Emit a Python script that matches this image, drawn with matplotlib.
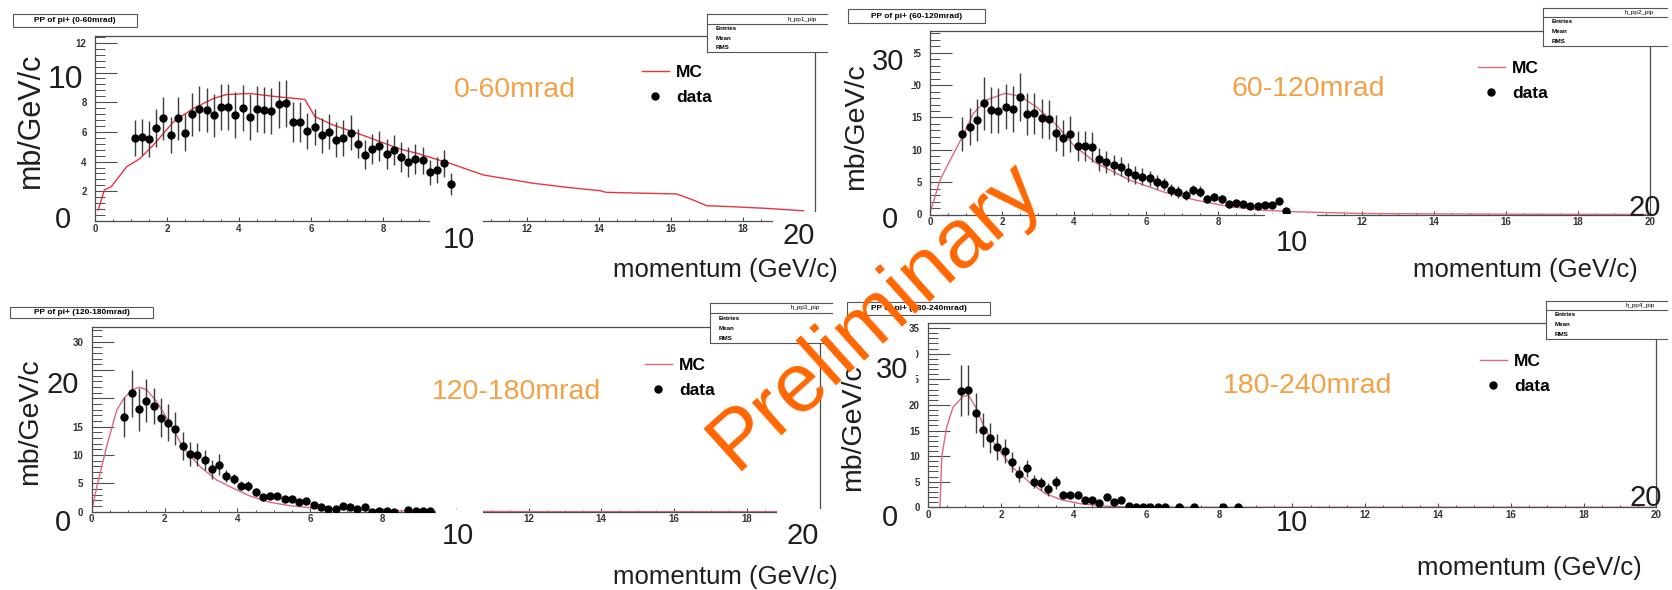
import matplotlib.pyplot as plt
from matplotlib.ticker import MultipleLocator, FuncFormatter
from matplotlib.patches import Rectangle

plt.rcParams['font.family'] = ['Liberation Sans', 'DejaVu Sans']

W, H = 1672, 590

# ---- values (momentum in GeV/c, mb/GeV/c) ----
x_0_60 = [1.1, 1.3, 1.5, 1.7, 1.9, 2.1, 2.3, 2.5, 2.7, 2.9, 3.1, 3.3, 3.5, 3.7, 3.9,
          4.1, 4.3, 4.5, 4.7, 4.9, 5.1, 5.3, 5.5, 5.7, 5.9, 6.1, 6.3, 6.5, 6.7, 6.9,
          7.1, 7.3, 7.5, 7.7, 7.9, 8.1, 8.3, 8.5, 8.7, 8.9, 9.1, 9.3, 9.5, 9.7, 9.9]
y_0_60 = [5.57, 5.66, 5.52, 6.26, 6.91, 5.79, 6.91, 5.95, 7.18, 7.56, 7.47, 7.12, 7.70, 7.68, 7.16,
          7.63, 6.98, 7.54, 7.47, 7.38, 7.86, 7.92, 6.69, 6.64, 6.06, 6.31, 5.77, 6.02, 5.48, 5.59,
          5.95, 5.21, 4.47, 4.85, 5.03, 4.49, 4.76, 4.29, 3.97, 4.18, 4.09, 3.28, 3.43, 3.88, 2.49]
e_0_60 = [1.2, 1.2, 1.2, 1.3, 1.45, 1.2, 1.45, 1.25, 1.45, 1.5, 1.5, 1.45, 1.55, 1.55, 1.55,
          1.55, 1.55, 1.55, 1.55, 1.55, 1.6, 1.6, 1.35, 1.35, 1.2, 1.2, 1.2, 1.2, 1.2, 1.2,
          1.2, 1.0, 1.0, 1.0, 1.0, 1.0, 1.0, 1.0, 1.0, 1.0, 0.9, 0.85, 0.85, 0.9, 0.75]
mc_x_0_60 = [0.09, 0.26, 0.45, 0.88, 1.25, 1.62, 2.18, 2.73, 3.29, 3.66, 4.31, 5.05, 5.83, 6.11, 6.62,
             7.55, 8.47, 8.94, 9.86, 10.79, 12.18, 13.1, 14.03, 14.2, 16.16, 16.62, 16.99, 17.73,
             18.66, 19.68]
mc_y_0_60 = [0.74, 2.09, 2.31, 3.65, 4.21, 5.11, 6.68, 7.58, 8.25, 8.52, 8.59, 8.37, 8.19, 7.02, 6.46,
             5.68, 4.85, 4.56, 3.88, 3.1, 2.54, 2.27, 2.04, 1.93, 1.82, 1.41, 1.03, 0.96, 0.85, 0.69]

x_60_120 = [0.9, 1.1, 1.3, 1.5, 1.7, 1.9, 2.1, 2.3, 2.5, 2.7, 2.9, 3.1, 3.3, 3.5, 3.7, 3.9,
            4.1, 4.3, 4.5, 4.7, 4.9, 5.1, 5.3, 5.5, 5.7, 5.9, 6.1, 6.3, 6.5, 6.7, 6.9,
            7.1, 7.3, 7.5, 7.7, 7.9, 8.1, 8.3, 8.5, 8.7, 8.9, 9.1, 9.3, 9.5, 9.7, 9.9]
y_60_120 = [12.44, 13.57, 14.6, 17.18, 16.15, 16.05, 16.66, 16.31, 18.21, 15.53, 15.64, 14.87, 14.71,
            12.55, 11.78, 12.44, 10.64, 10.64, 10.48, 8.53, 8.07, 7.65, 7.39, 6.52, 6.11, 5.85, 5.59,
            5.07, 4.71, 3.79, 3.43, 3.01, 3.79, 3.53, 2.34, 2.76, 2.34, 1.57, 1.73, 1.63, 1.32, 1.32,
            1.45, 1.5, 2.09, 0.59]
e_60_120 = [2.6, 2.9, 3.2, 4.1, 3.5, 3.5, 3.5, 3.5, 3.7, 3.3, 3.2, 3.0, 3.0, 2.8, 2.8, 2.8,
            2.3, 2.3, 2.3, 1.8, 1.7, 1.6, 1.5, 1.5, 1.4, 1.3, 1.2, 1.1, 1.0, 0.9, 0.9,
            0.8, 0.8, 0.8, 0.6, 0.6, 0.6, 0.5, 0.5, 0.5, 0.4, 0.4, 0.4, 0.4, 0.5, 0.3]
mc_x_60_120 = [0.0, 0.28, 0.56, 0.88, 1.2, 1.57, 2.08, 2.5, 2.96, 3.52, 3.98, 4.63, 5.56, 6.48,
               7.4, 8.33, 9.17, 10.0, 12.0, 16.0, 20.0]
mc_y_60_120 = [0.2, 5.33, 8.4, 11.8, 15.6, 17.7, 18.73, 18.3, 16.6, 13.8, 10.75, 7.9, 5.3, 3.5,
               2.2, 1.2, 0.7, 0.45, 0.15, 0.05, 0.0]

x_120_180 = [0.9, 1.1, 1.3, 1.5, 1.7, 1.9, 2.1, 2.3, 2.5, 2.7, 2.9, 3.1, 3.3, 3.5, 3.7, 3.9,
             4.1, 4.3, 4.5, 4.7, 4.9, 5.1, 5.3, 5.5, 5.7, 5.9, 6.1, 6.3, 6.5, 6.7, 6.9,
             7.1, 7.3, 7.5, 7.7, 7.9, 8.1, 8.3, 8.7, 8.9, 9.1, 9.3]
y_120_180 = [16.68, 20.9, 18.09, 19.6, 18.7, 16.6, 15.73, 14.61, 11.6, 10.2, 10.08, 9.13, 7.49,
             8.31, 6.31, 5.78, 4.6, 4.54, 3.54, 2.54, 2.83, 2.77, 2.18, 2.18, 1.71, 1.94, 1.23,
             0.88, 0.47, 0.47, 0.94, 0.77, 0.47, 0.77, 0.0, 0.06, 0.06, 0.0, 0.29, 0.12, 0.15, 0.15]
e_120_180 = [3.5, 4.1, 3.8, 3.8, 3.2, 3.5, 3.2, 2.9, 2.4, 2.1, 2.1, 1.8, 1.7, 1.9, 1.0, 0.9,
             0.8, 0.8, 0.7, 0.6, 0.6, 0.6, 0.5, 0.5, 0.5, 0.5, 0.4, 0.4, 0.3, 0.3, 0.4,
             0.3, 0.3, 0.3, 0.2, 0.2, 0.2, 0.2, 0.2, 0.2, 0.2, 0.2]
mc_x_120_180 = [0.0, 0.14, 0.41, 0.69, 0.87, 1.1, 1.31, 1.51, 1.79, 2.15, 2.52, 2.98, 3.43, 3.89,
                4.35, 4.9, 5.45, 6.0, 7.0, 9.0, 12.0, 20.0]
mc_y_120_180 = [0.0, 4.4, 11.5, 17.97, 19.85, 21.5, 21.97, 21.5, 19.4, 15.6, 11.2, 7.95, 5.6, 4.13,
                2.77, 1.65, 1.06, 0.7, 0.35, 0.1, 0.02, 0.0]

x_180_240 = [0.9, 1.1, 1.3, 1.5, 1.7, 1.9, 2.1, 2.3, 2.5, 2.7, 2.9, 3.1, 3.3, 3.5, 3.7, 3.9,
             4.1, 4.3, 4.5, 4.7, 4.9, 5.1, 5.3, 5.5, 5.7, 5.9, 6.1, 6.3, 6.5, 6.9, 7.3, 8.1, 8.5]
y_180_240 = [22.8, 22.9, 18.4, 15.1, 13.5, 11.8, 11.0, 8.8, 6.5, 7.6, 5.0, 4.7, 3.5, 4.9, 2.5, 2.4,
             2.5, 1.43, 1.43, 0.78, 2.1, 0.98, 1.43, 0.33, 0.0, 0.0, 0.0, 0.0, 0.0, 0.0, 0.0, 0.0, 0.0]
e_180_240 = [4.9, 4.9, 3.9, 3.3, 2.9, 2.6, 2.3, 2.0, 1.6, 1.6, 1.3, 1.3, 1.3, 1.3, 0.6, 0.6,
             0.6, 0.5, 0.5, 0.5, 0.5, 0.5, 0.5, 0.3, 0.1, 0.1, 0.1, 0.1, 0.1, 0.1, 0.1, 0.1, 0.1]
mc_x_180_240 = [0.32, 0.37, 0.5, 0.68, 0.95, 1.1, 1.3, 1.57, 1.94, 2.3, 2.76, 3.21, 3.67, 4.22,
                5.04, 6.0, 8.0, 20.0]
mc_y_180_240 = [0.0, 9.9, 15.5, 19.6, 21.6, 21.9, 19.6, 15.1, 11.2, 7.9, 5.0, 2.7, 1.43, 0.65,
                0.13, 0.05, 0.0, 0.0]

ranges = ["0-60mrad", "60-120mrad", "120-180mrad", "180-240mrad"]
hist_names = ["h_pp1_pip", "h_pp2_pip", "h_pp3_pip", "h_pp4_pip"]

FRAME = "#4d4d4d"
ORANGE = "#F4A045"


def px_rect(left, top, right, bottom):
    """Figure fraction rectangle from pixel edges (origin top-left)."""
    return [left / W, 1 - bottom / H, (right - left) / W, (bottom - top) / H]


def skip_labels(hidden):
    """Tick formatter that leaves out the labels pasted over on the slide."""
    return FuncFormatter(lambda v, pos: "" if round(v) in hidden else f"{v:g}")


def draw_panel(fig, box, ymax, ystep, x, y, err, mc_x, mc_y, mc_color, legend_at,
               hide_x=(), hide_y=()):
    """
        One ROOT-style histogram pad: MC line, data points with errors, legend.
    """
    ax = fig.add_axes(px_rect(*box))
    mc_line, = ax.plot(mc_x, mc_y, color=mc_color, lw=1.0)
    eb = ax.errorbar(x, y, yerr=err, fmt="o", color="black", ms=5, ecolor="#3c3c3c",
                     elinewidth=1.0, capsize=0, zorder=3)
    ax.set_xlim(0, 20)
    ax.set_ylim(0, ymax)
    ax.xaxis.set_major_locator(MultipleLocator(2))
    ax.xaxis.set_minor_locator(MultipleLocator(0.5))
    ax.yaxis.set_major_locator(MultipleLocator(ystep))
    ax.yaxis.set_minor_locator(MultipleLocator(ystep / 5))
    ax.xaxis.set_major_formatter(skip_labels(hide_x))
    ax.yaxis.set_major_formatter(skip_labels(hide_y))
    for s in ax.spines.values():
        s.set_color(FRAME)
        s.set_linewidth(0.9)
    ax.tick_params(axis="x", which="major", direction="in", length=3, width=0.8, color=FRAME,
                   labelsize=7, pad=2, labelcolor="#333333")
    ax.tick_params(axis="x", which="minor", direction="in", length=1.6, width=0.7, color=FRAME)
    ax.tick_params(axis="y", which="major", direction="in", length=15.5, width=0.8, color=FRAME,
                   labelsize=7, pad=6, labelcolor="#333333")
    ax.tick_params(axis="y", which="minor", direction="in", length=7.5, width=0.7, color=FRAME)
    for lab in ax.get_xticklabels() + ax.get_yticklabels():
        lab.set_fontweight("bold")
    ax.legend([mc_line, eb[0]], ["MC", "data"], loc="upper left",
              bbox_to_anchor=(legend_at[0] / W, 1 - legend_at[1] / H),
              bbox_transform=fig.transFigure, frameon=False, borderpad=0, borderaxespad=0,
              handlelength=1.55, handletextpad=0.4, labelspacing=0.55,
              prop={"weight": "bold", "size": 12.5})
    return ax


fig = plt.figure(figsize=(W / 100, H / 100), dpi=100)
fig.patch.set_facecolor("white")

draw_panel(fig, (95, 36, 815, 221), 12.46, 2, x_0_60, y_0_60, e_0_60,
           mc_x_0_60, mc_y_0_60, "#E8343F", (642, 65), hide_x=(10, 20), hide_y=(0, 10))
draw_panel(fig, (930, 31, 1650, 214.5), 28.36, 5, x_60_120, y_60_120, e_60_120,
           mc_x_60_120, mc_y_60_120, "#DC6A7C", (1478, 61), hide_x=(10,))
draw_panel(fig, (91.7, 327, 819.7, 511.7), 32.6, 5, x_120_180, y_120_180, e_120_180,
           mc_x_120_180, mc_y_120_180, "#DC6A7C", (645, 358), hide_x=(10, 20), hide_y=(20, 25))
draw_panel(fig, (928.3, 323, 1656.3, 507.3), 36.0, 5, x_180_240, y_180_240, e_180_240,
           mc_x_180_240, mc_y_180_240, "#DC6A7C", (1480, 354), hide_x=(10,))

# ---- slide overlay in pixel coordinates ----
over = fig.add_axes([0, 0, 1, 1])
over.set_xlim(0, W)
over.set_ylim(H, 0)
over.axis("off")
over.patch.set_visible(False)
over.set_zorder(5)

# white patches pasted over parts of the axes on the slide
for x0, y0, x1, y1 in [(430, 213, 483, 258), (773, 212, 824, 258),
                       (866, 46, 914, 88), (1265, 213.8, 1317, 260),
                       (436, 509, 483, 556), (777, 509, 824, 556),
                       (873, 345, 915.5, 386), (1265, 508, 1317, 550)]:
    over.add_patch(Rectangle((x0, y0), x1 - x0, y1 - y0, fc="white", ec="none", zorder=1))

titles = [(13, 14, 137, 27), (848, 9, 985, 23), (10, 307, 153, 318), (847, 302, 990, 315)]
for (x0, y0, x1, y1), r in zip(titles, ranges):
    over.add_patch(Rectangle((x0, y0), x1 - x0, y1 - y0, fc="white", ec="#555555", lw=0.8, zorder=3))
    over.text((x0 + x1) / 2, (y0 + y1) / 2, f"PP of pi+ ({r})", fontsize=6, weight="bold",
              ha="center", va="center", zorder=4)

# stats boxes: (left, top, right, bottom, separator, header right edge)
stats = [(707, 14, 827, 52, 24, 817), (1543, 8, 1667, 46, 17, 1654),
         (710, 303, 832, 343, 313, 820), (1546, 301, 1667, 339, 310, 1655)]
for (x0, y0, x1, y1, ys, xr), name in zip(stats, hist_names):
    over.add_patch(Rectangle((x0, y0), x1 - x0, y1 - y0, fc="white", ec="none", zorder=3))
    for yy in (y0, ys, y1):
        over.plot([x0, x1], [yy, yy], color="#555555", lw=0.8, zorder=4)
    over.plot([x0, x0], [y0, y1], color="#555555", lw=0.8, zorder=4)
    over.text(xr, (y0 + ys) / 2, name, fontsize=4.5, ha="right", va="center", zorder=4)
    step = (y1 - ys) / 3
    for i, lab in enumerate(["Entries", "Mean", "RMS"]):
        over.text(x0 + 9, ys + step * (i + 0.5), lab, fontsize=4.5, weight="bold",
                  ha="left", va="center", zorder=4)

# orange angle-range labels
for (cx, cy), r in zip([(515, 90), (1308, 89), (517, 392), (1308, 386)], ranges):
    over.text(cx, cy, r, fontsize=20.5, color=ORANGE, ha="center", va="center", zorder=4)

# big hand-pasted axis labels
DARK = "#1e1e1e"
for cx, cy, size in [(31, 120, 22), (856, 127, 20.5), (30, 422, 20.5), (853, 428, 20.5)]:
    over.text(cx, cy, "mb/GeV/c", fontsize=size, rotation=90, color=DARK,
              ha="center", va="center", zorder=4)
for cx, cy, s, size in [(65, 80, "10", 23), (63, 220, "0", 21), (459, 240, "10", 21), (799, 236, "20", 21),
                        (888, 62, "30", 21), (890, 220, "0", 21), (1292, 243, "10", 21), (1645, 208, "20", 21),
                        (63, 385, "20", 21), (63, 523, "0", 21), (458, 536, "10", 21), (803, 536, "20", 21),
                        (892, 370, "30", 21), (890, 518, "0", 21), (1292, 523, "10", 21), (1646, 498, "20", 21)]:
    over.text(cx, cy, s, fontsize=size, color=DARK, ha="center", va="center", zorder=4)
for lx, cy in [(613, 270), (1413, 270), (613, 577), (1417, 568)]:
    over.text(lx, cy, "momentum (GeV/c)", fontsize=18.5, color=DARK, ha="left", va="center", zorder=4)

over.text(875, 315, "Preliminary", fontsize=60, color="#FF6600", rotation=42,
          rotation_mode="anchor", ha="center", va="center", zorder=10)

fig.savefig("out.png", dpi=100, facecolor="white")
